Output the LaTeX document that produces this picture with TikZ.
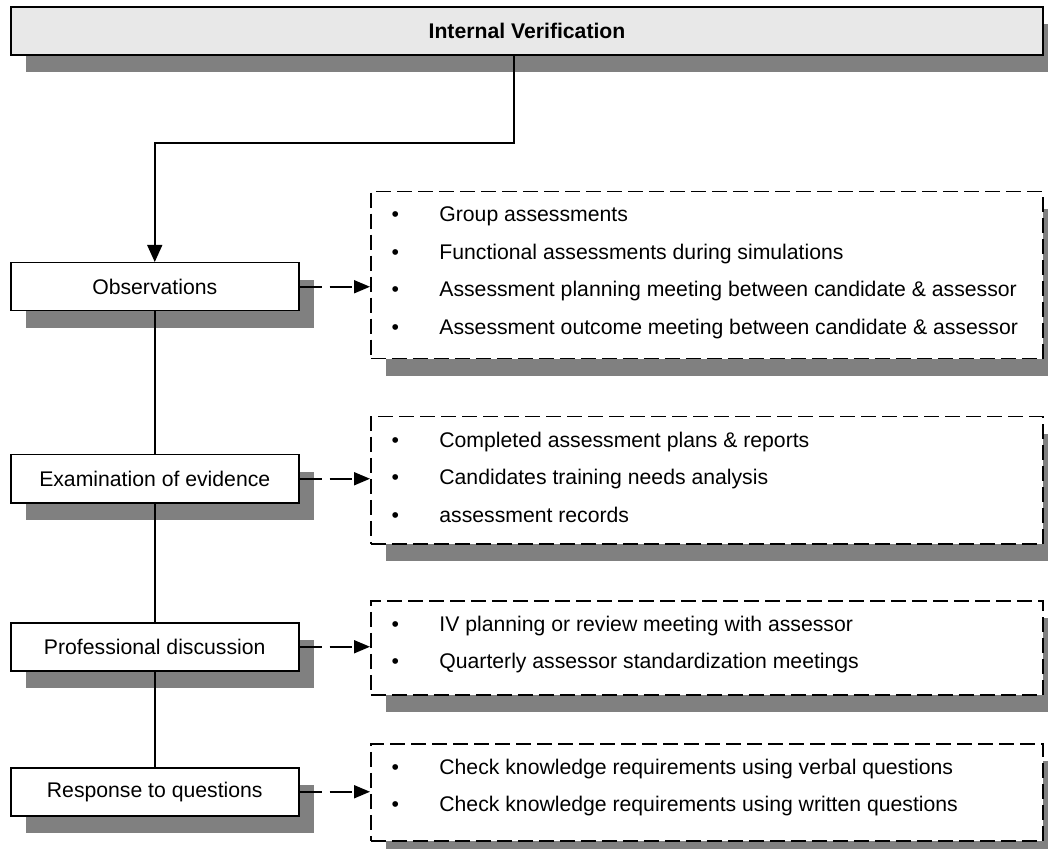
\documentclass[tikz,border=0pt]{standalone}
\usepackage{fontspec}
\setmainfont{Liberation Sans}
\usetikzlibrary{positioning,arrows.meta,shadows}

\newcommand{\evitem}{\makebox[34.5pt][l]{\hspace{10.6pt}\textbullet}}

\begin{document}
\begin{tikzpicture}[x=0.5pt,y=-0.5pt,>=Triangle,
every node/.style={font=\fontsize{10.6}{18.8}\selectfont},
boxshadow/.style={drop shadow={shadow xshift=7.5pt,shadow yshift=-8.5pt,fill=black!50,opacity=1}},
topbox/.style={draw,line width=1pt,fill=black!9,boxshadow,minimum width=516pt,minimum height=24pt,anchor=north west,font=\fontsize{10.6}{13}\selectfont\bfseries},
method/.style={draw,line width=0.75pt,fill=white,boxshadow,minimum width=144pt,minimum height=24pt,anchor=north west},
evbox/.style={draw,dash pattern=on 7.5pt off 3pt,line width=0.75pt,fill=white,boxshadow,minimum width=336pt,anchor=north west},
evlist/.style={anchor=north west,align=left,inner sep=0pt,yshift=-7.8pt},
dashlink/.style={->,line width=0.9pt,dash pattern=on 11pt off 4pt,>={Triangle[length=8pt,width=6.5pt]}}]
\clip (0,0) rectangle (1048,849);
\node[topbox] (title) at (10,6) {Internal Verification};
% assessment methods
\node[method] (obs) at (10,262) {Observations};
\node[method] (exam) at (10,454) {Examination of evidence};
\node[method] (prof) at (10,622) {Professional discussion};
\node[method] (resp) at (10,767) {Response to questions};
% evidence boxes
\node[evbox,minimum height=83.5pt] (obsbox) at (370,191) {};
\node[evlist] (obsitems) at (obsbox.north west) {\evitem Group assessments\\
\evitem Functional assessments during simulations\\
\evitem Assessment planning meeting between candidate \& assessor\\
\evitem Assessment outcome meeting between candidate \& assessor};
\node[evbox,minimum height=63.5pt] (exambox) at (370,416) {};
\node[evlist] (examitems) at (exambox.north west) {\evitem Completed assessment plans \& reports\\
\evitem Candidates training needs analysis\\
\evitem assessment records};
\node[evbox,minimum height=47pt] (profbox) at (370,600) {};
\node[evlist] (profitems) at (profbox.north west) {\evitem IV planning or review meeting with assessor\\
\evitem Quarterly assessor standardization meetings};
\node[evbox,minimum height=48.5pt] (respbox) at (370,743) {};
\node[evlist] (respitems) at (respbox.north west) {\evitem Check knowledge requirements using verbal questions\\
\evitem Check knowledge requirements using written questions};
% connectors
\coordinate (tbend) at (514,143);
\draw[->,line width=0.75pt,>={Triangle[length=8.5pt,width=7.5pt]}] (title.south -| tbend) -- (tbend) -| (obs.north);
\draw[line width=0.75pt] (obs) -- (exam);
\draw[line width=0.75pt] (exam) -- (prof);
\draw[line width=0.75pt] (prof) -- (resp);
\draw[dashlink] (obs.east) -- (obs.east -| obsbox.west);
\draw[dashlink] (exam.east) -- (exam.east -| exambox.west);
\draw[dashlink] (prof.east) -- (prof.east -| profbox.west);
\draw[dashlink] (resp.east) -- (resp.east -| respbox.west);
\end{tikzpicture}
\end{document}
